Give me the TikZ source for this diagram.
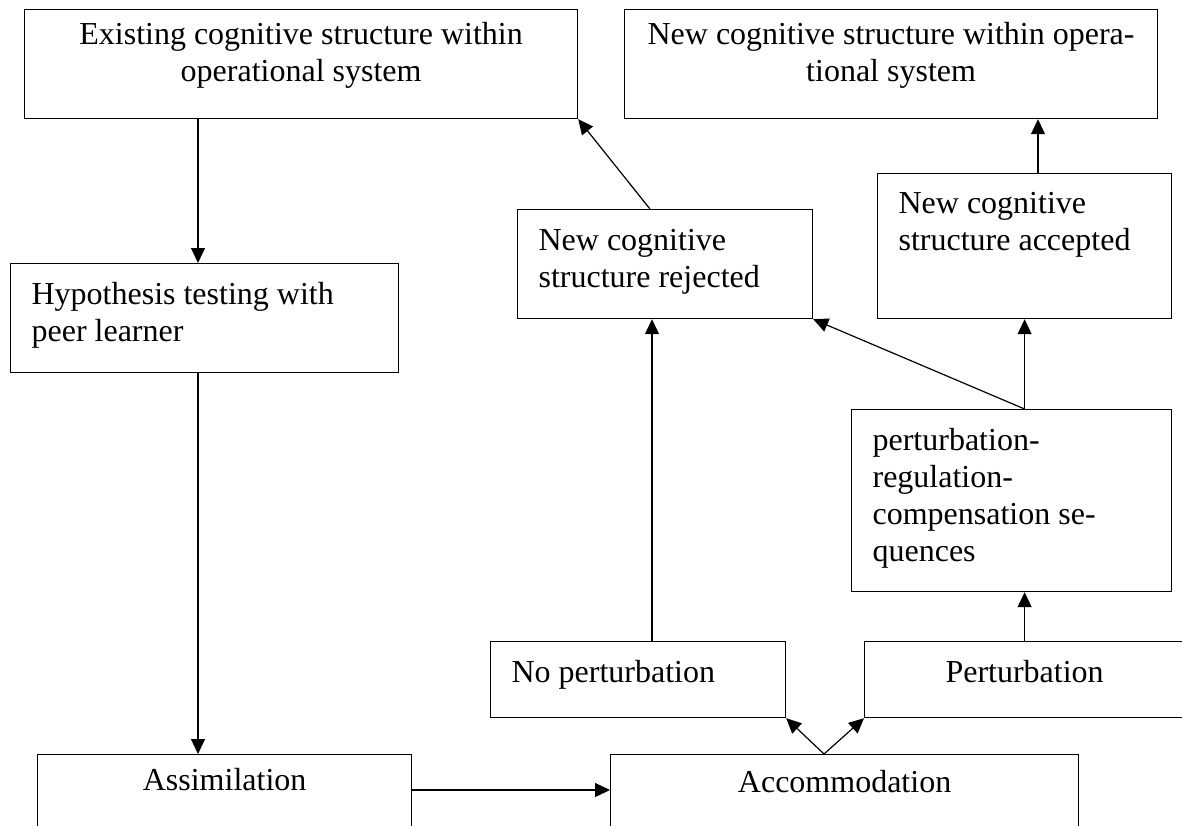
\documentclass[tikz,border=0pt]{standalone}
\usepackage{fontspec}
\setmainfont{Liberation Serif}
\usepackage{tikz}
\usetikzlibrary{arrows.meta}

% box of fixed size, text from the top
\newcommand{\cell}[4]{\parbox[c][#2pt][t]{\dimexpr#1pt-42pt\relax}{\rule{0pt}{#3pt}#4}}

\begin{document}
\begin{tikzpicture}[x=1pt, y=-1pt,
	block/.style={draw, line width=1.2pt, inner xsep=21pt, inner ysep=0pt, anchor=north west, font=\fontsize{32}{36.8}\selectfont},
	arr/.style={-{Triangle[length=15pt,width=14pt]}, line width=1.2pt}]

	\useasboundingbox (0,0) rectangle (1182,825);

	\node[block] (exist) at (24,9) {\cell{553}{109}{35}{\centering Existing cognitive structure within\\operational system}};
	\node[block] (newstruct) at (624,9) {\cell{533}{109}{35}{\centering New cognitive structure within opera-\\tional system}};
	\node[block] (hypo) at (10,263) {\cell{388}{109}{41}{\raggedright Hypothesis testing with\\peer learner}};
	\node[block] (rejected) at (517,209) {\cell{295}{109}{41}{\raggedright New cognitive\\structure rejected}};
	\node[block] (accepted) at (877,173) {\cell{294}{145}{40}{\raggedright New cognitive\\structure accepted}};
	\node[block] (seq) at (851,409) {\cell{320}{182}{41}{\raggedright perturbation-\\regulation-\\compensation se-\\quences}};
	\node[block] (nopert) at (490,641) {\cell{295}{76}{41}{\raggedright No perturbation}};
	\node[block] (pert) at (864,641) {\cell{320}{76}{41}{\centering Perturbation}};
	\node[block] (assim) at (37,754) {\cell{374}{120}{36}{\centering Assimilation}};
	\node[block] (accom) at (610,754) {\cell{468}{120}{38}{\centering Accommodation}};

	\coordinate (colA) at (198,0);
	\coordinate (upL) at (650,0);
	\coordinate (noX) at (652,0);
	\coordinate (acX) at (1038,0);
	\coordinate (spX) at (824,0);
	\coordinate (row) at (0,790);

	\draw[arr] (exist.south -| colA) -- (hypo.north -| colA);
	\draw[arr] (hypo.south -| colA) -- (assim.north -| colA);
	\draw[arr] (assim.east |- row) -- (accom.west |- row);
	\draw[arr] (accom.north -| spX) -- (nopert.south east);
	\draw[arr] (accom.north -| spX) -- (pert.south west);
	\draw[arr] (nopert.north -| noX) -- (rejected.south -| noX);
	\draw[arr] (pert.north) -- (seq.south -| pert.north);
	\draw[arr] (seq.north -| accepted.south) -- (accepted.south);
	\draw[arr] (seq.north -| accepted.south) -- (rejected.south east);
	\draw[arr] (rejected.north -| upL) -- (exist.south east);
	\draw[arr] (accepted.north -| acX) -- (newstruct.south -| acX);

\end{tikzpicture}
\end{document}
